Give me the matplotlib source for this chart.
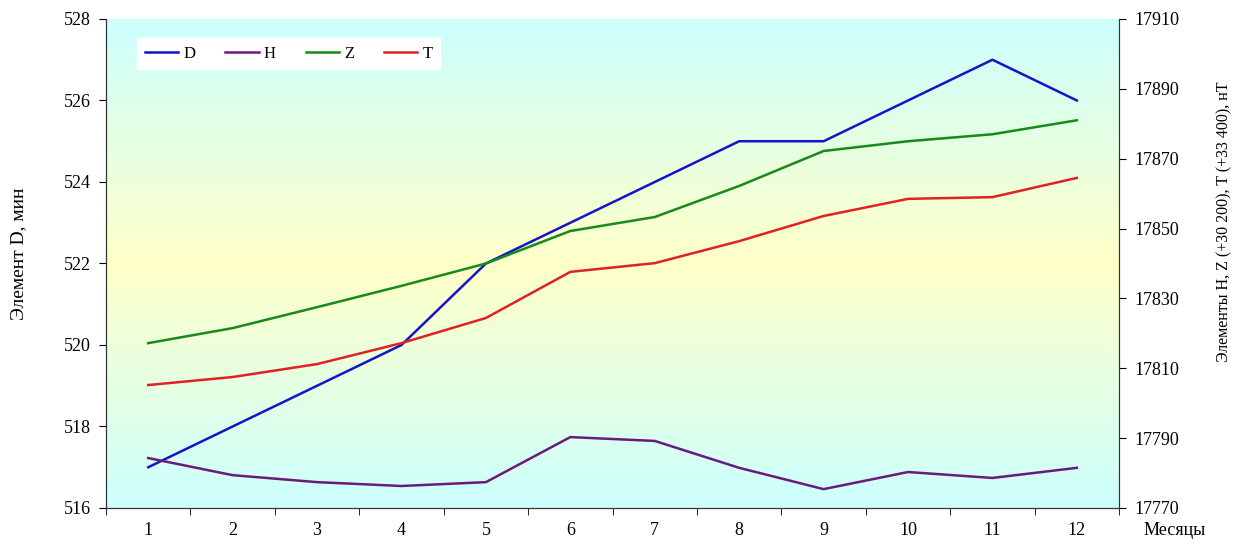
import numpy as np
import matplotlib
matplotlib.use('Agg')
import matplotlib.pyplot as plt
from matplotlib.colors import LinearSegmentedColormap

plt.rcParams['font.family'] = ['Liberation Serif', 'DejaVu Serif']

months = [1, 2, 3, 4, 5, 6, 7, 8, 9, 10, 11, 12]
# declination, minutes
d_vals = [517, 518, 519, 520, 522, 523, 524, 525, 525, 526, 527, 526]
# H, Z (+30 200), T (+33 400), nT
h_vals = [17784.3, 17779.4, 17777.4, 17776.3, 17777.4, 17790.3,
          17789.2, 17781.5, 17775.4, 17780.3, 17778.6, 17781.5]
z_vals = [17817.2, 17821.5, 17827.5, 17833.6, 17840.0, 17849.3,
          17853.3, 17862.2, 17872.2, 17875.0, 17877.0, 17881.0]
t_vals = [17805.2, 17807.5, 17811.2, 17817.2, 17824.4, 17837.6,
          17840.1, 17846.4, 17853.6, 17858.5, 17859.0, 17864.5]

fig = plt.figure(figsize=(12.43, 5.47), dpi=100)
ax = fig.add_axes([0.0853, 0.0713, 0.815, 0.894])
ax2 = ax.twinx()

# background: cyan - yellow - cyan
cmap = LinearSegmentedColormap.from_list(
    'bg', [(0.0, '#ccffff'), (0.5, '#ffffc8'), (1.0, '#ccffff')])
grad = np.linspace(0, 1, 256).reshape(-1, 1)
ax.imshow(grad, cmap=cmap, aspect='auto', extent=[0, 1, 0, 1],
          transform=ax.transAxes, zorder=0)

l_d, = ax.plot(months, d_vals, color='#1515c8', lw=1.8, zorder=3)
l_h, = ax2.plot(months, h_vals, color='#6a1a78', lw=1.8)
l_z, = ax2.plot(months, z_vals, color='#188a18', lw=1.8)
l_t, = ax2.plot(months, t_vals, color='#e02222', lw=1.8)

ax.set_xlim(0.5, 12.5)
ax.set_ylim(516, 528)
ax.set_yticks(np.arange(516, 529, 2))
ax2.set_ylim(17770, 17910)
ax2.set_yticks(np.arange(17770, 17911, 20))

ax.set_xticks(months)
ax.set_xticks(np.arange(0.5, 12.6, 1), minor=True)
ax.tick_params(axis='x', which='major', length=0, pad=10, labelsize=13)
ax.tick_params(axis='x', which='minor', length=5, direction='out')
ax.tick_params(axis='y', length=5, labelsize=13, pad=6)
ax2.tick_params(axis='y', length=5, labelsize=13, pad=6)

for a in (ax, ax2):
    a.spines['top'].set_visible(False)
    for s in ('left', 'right', 'bottom'):
        a.spines[s].set_color('#333333')

ax.set_ylabel('Элемент D, мин', fontsize=14)
ax.yaxis.set_label_coords(-0.078, 0.52)
ax2.set_ylabel('Элементы H, Z (+30 200), T (+33 400), нТ', fontsize=11.5)
ax2.yaxis.set_label_coords(1.096, 0.585)
fig.text(0.945, 0.015, 'Месяцы', fontsize=13, ha='center', va='bottom')

leg = ax2.legend([l_d, l_h, l_z, l_t], ['D', 'H', 'Z', 'T'], ncol=4,
                 loc='upper left', bbox_to_anchor=(0.031, 0.961),
                 frameon=True, fancybox=False, fontsize=12,
                 handlelength=2.0, handletextpad=0.3, columnspacing=1.8,
                 borderpad=0.45, borderaxespad=0)
leg.get_frame().set_facecolor('white')
leg.get_frame().set_edgecolor('white')
leg.get_frame().set_alpha(1)

fig.savefig('out.png', dpi=100)
